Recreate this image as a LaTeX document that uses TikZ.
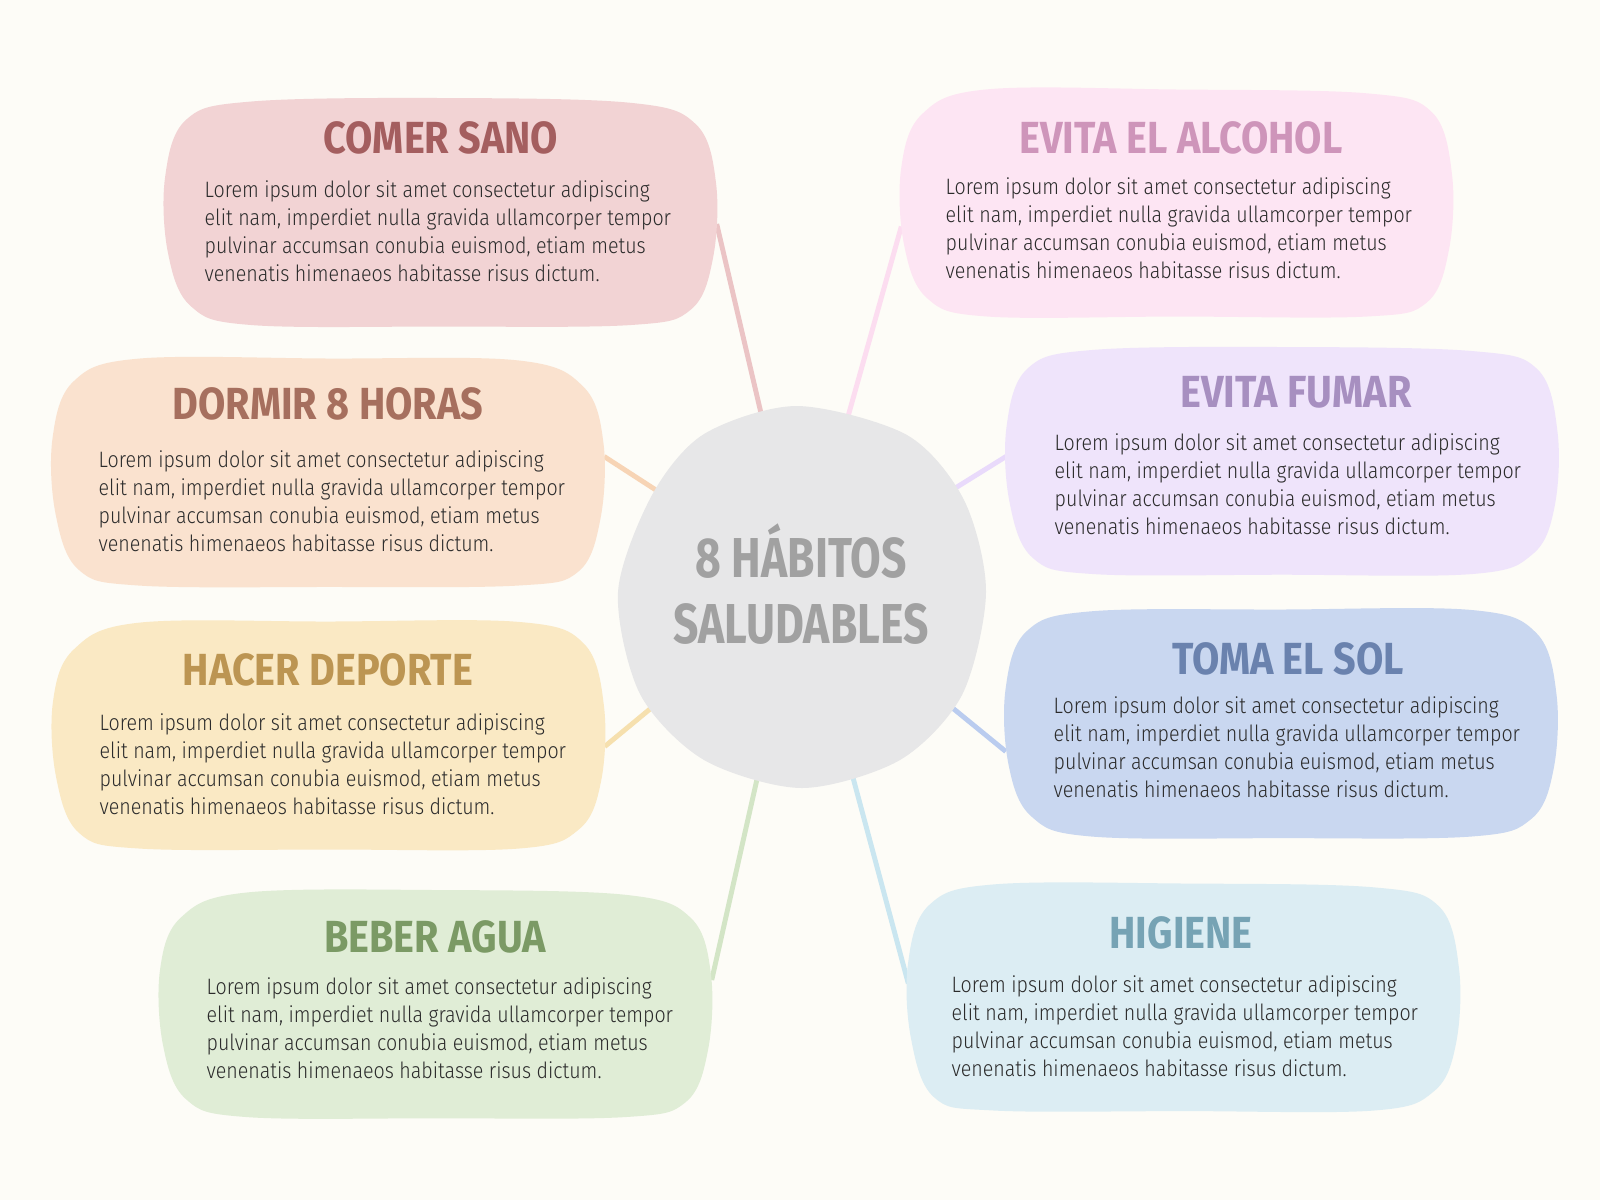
\documentclass[tikz,border=0pt]{standalone}
\usepackage{fontspec}
\setmainfont{Fira Sans}[FakeStretch=0.88]
\newfontfamily\hubfont{Fira Sans}[FakeStretch=0.79]
\newfontfamily\loremfont{Fira Sans Light}[FakeStretch=0.88]
\usetikzlibrary{positioning}

\definecolor{paper}{HTML}{FDFCF7}
\definecolor{loremgray}{HTML}{2B2B2B}
\definecolor{hubfill}{HTML}{E7E7E8}
\definecolor{hubtext}{HTML}{A1A1A1}
% fill, title and link colour of each habit
\definecolor{fillcomer}{HTML}{F2D3D4}\definecolor{titlecomer}{HTML}{A45E5F}\definecolor{linkcomer}{HTML}{EBC4C5}
\definecolor{fillalcohol}{HTML}{FDE5F3}\definecolor{titlealcohol}{HTML}{CE95BA}\definecolor{linkalcohol}{HTML}{FCDDF0}
\definecolor{filldormir}{HTML}{FAE2CF}\definecolor{titledormir}{HTML}{A66F5E}\definecolor{linkdormir}{HTML}{F7D4B5}
\definecolor{fillfumar}{HTML}{EFE4FB}\definecolor{titlefumar}{HTML}{A78FC0}\definecolor{linkfumar}{HTML}{E9DAFB}
\definecolor{filldeporte}{HTML}{FAE9C4}\definecolor{titledeporte}{HTML}{BC9552}\definecolor{linkdeporte}{HTML}{F6E0AE}
\definecolor{fillsol}{HTML}{C9D7F0}\definecolor{titlesol}{HTML}{6A82AE}\definecolor{linksol}{HTML}{BACCEF}
\definecolor{fillagua}{HTML}{E0EDD6}\definecolor{titleagua}{HTML}{7B9A65}\definecolor{linkagua}{HTML}{D3E5C6}
\definecolor{fillhigiene}{HTML}{DCEDF3}\definecolor{titlehigiene}{HTML}{76A3B4}\definecolor{linkhigiene}{HTML}{CAE6F0}

\pgfdeclarelayer{links}
\pgfsetlayers{links,main}

\tikzset{
  blob/.style={smooth cycle, tension=0.6},
  habit/.style={minimum width=5.5cm, minimum height=2.28cm, inner sep=0pt},
  habittitle/.style={font=\bfseries\fontsize{12.8}{14}\selectfont, inner sep=0pt},
  lorem/.style={align=left, anchor=west, text=loremgray, inner sep=0pt,
    font=\loremfont\fontsize{6.35}{8}\selectfont},
  link/.style={line width=1.4pt}
}

\newcommand{\habitlorem}{Lorem ipsum dolor sit amet consectetur adipiscing\\
elit nam, imperdiet nulla gravida ullamcorper tempor\\
pulvinar accumsan conubia euismod, etiam metus\\
venenatis himenaeos habitasse risus dictum.}

\begin{document}
\begin{tikzpicture}
	\pgfmathsetseed{11}
	\begin{pgfonlayer}{links}
		\fill[paper] (0,0) rectangle (16,-12);
	\end{pgfonlayer}
	\useasboundingbox (0,0) rectangle (16,-12);
	
	% hub
	\fill[hubfill, shift={(8.02,-5.97)}] plot[smooth cycle] coordinates {(1.84,0.05) (1.62,0.97) (1.05,1.62) (-0.05,1.91) (-0.98,1.63) (-1.5,1.02) (-1.84,0.05) (-1.62,-0.97) (-0.98,-1.63) (0,-1.91) (0.98,-1.63) (1.6,-0.98)};
	\node[align=center, text=hubtext, font=\hubfont\bfseries\fontsize{16}{19}\selectfont] (hub) at (8.01,-5.84) {8 HÁBITOS\\SALUDABLES};
	
	% habits
	\foreach \n/\x/\y/\tx/\ty/\bx/\by/\t in {
		comer/4.41/-2.13/4.41/-1.38/2.04/-2.31/COMER SANO,
		alcohol/11.77/-2.045/11.81/-1.38/9.45/-2.28/EVITA EL ALCOHOL,
		dormir/3.285/-4.735/3.28/-4.04/0.98/-5.01/DORMIR 8 HORAS,
		fumar/12.825/-4.62/12.96/-3.92/10.54/-4.84/EVITA FUMAR,
		deporte/3.29/-7.365/3.28/-6.70/0.99/-7.64/HACER DEPORTE,
		sol/12.815/-7.245/12.88/-6.59/10.53/-7.475/TOMA EL SOL,
		agua/4.36/-10.05/4.35/-9.37/2.06/-10.28/BEBER AGUA,
		higiene/11.84/-9.985/11.81/-9.33/9.51/-10.26/HIGIENE}{
		\fill[fill\n, shift={(\x,\y)}] plot[blob] coordinates {(-1.9,1.13+0.03*rand) (0,1.15) (1.9,1.12+0.03*rand) (2.55,0.9+0.04*rand) (2.75,0.3) (2.72,-0.45) (2.5,-0.95+0.04*rand) (1.9,-1.12) (0,-1.14+0.02*rand) (-1.9,-1.12) (-2.5,-0.95+0.04*rand) (-2.73,-0.4) (-2.76,0.35) (-2.55,0.9+0.04*rand)};
		\node[habit] (\n) at (\x,\y) {};
		\node[habittitle, text=title\n] at (\tx,\ty) {\t};
		\node[lorem] at (\bx,\by) {\habitlorem};
	}
	
	% links from the hub
	\begin{pgfonlayer}{links}
		\foreach \n/\side/\dy in {comer/east/-0.11, alcohol/west/-0.22, dormir/east/0.17, fumar/west/0.06,
			deporte/east/-0.10, sol/west/-0.27, agua/east/0.25, higiene/west/0.15}
		\draw[link, draw=link\n] (hub.center) -- ([yshift=\dy cm]\n.\side);
	\end{pgfonlayer}
\end{tikzpicture}
\end{document}
